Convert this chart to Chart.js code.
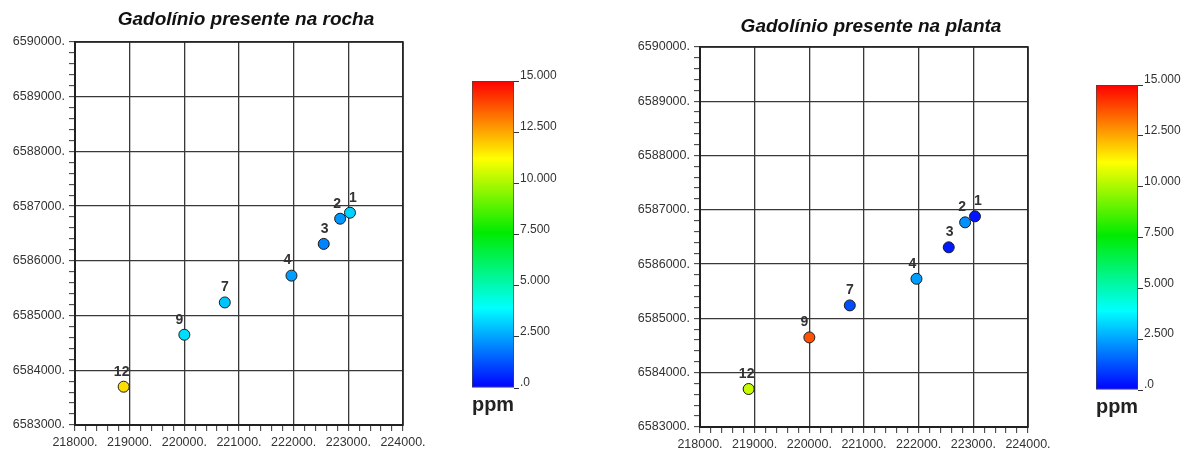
<!DOCTYPE html>
<html lang="pt">
<head>
<meta charset="UTF-8">
<title>Gadolínio - rocha e planta</title>
<script src="https://cdn.jsdelivr.net/npm/chart.js"></script>
<style>
    html, body { margin: 0; padding: 0; background: #fff; overflow: hidden; }
    #painel { position: relative; width: 1189px; height: 452px; }
    canvas { position: absolute; }
</style>
</head>
<body>
<div id="painel">
    <canvas id="mapaRocha" width="440" height="452" style="left:0;top:0"></canvas>
    <canvas id="escalaRocha" width="140" height="370" style="left:440px;top:60px"></canvas>
    <canvas id="mapaPlanta" width="440" height="449" style="left:625px;top:5px"></canvas>
    <canvas id="escalaPlanta" width="140" height="368" style="left:1064px;top:64px"></canvas>
</div>

<script>
// pontos de amostragem (coordenadas UTM) e teores de Gd em ppm
const pontos = ['1', '2', '3', '4', '7', '9', '12'];
const coordX = [223030, 222850, 222550, 221960, 220740, 220000, 218890];
const coordY = [6586880, 6586770, 6586310, 6585730, 6585240, 6584650, 6583700];
const gdRocha = [3.2, 2.3, 2.0, 2.4, 3.0, 3.4, 11.7];
const gdPlanta = [0.3, 2.2, 0.4, 2.4, 1.2, 13.8, 10.4];

// limites dos eixos
const limX = [218000, 224000];
const limY = [6583000, 6590000];
const limPpm = [0, 15];

// ajuste horizontal dos números dos pontos
const ajusteRotulo = [3, -3, 1, -4, 0, -5, -2];

const fonte = "'Liberation Sans', Arial, sans-serif";

// escala de cores (tipo "jet"): valor -> rgb
const paradas = [
    [0, [0, 0, 255]],
    [3.9, [0, 255, 255]],
    [7.6, [0, 235, 0]],
    [11.2, [255, 255, 0]],
    [15, [255, 0, 0]]
];

function corPpm(v) {
    for (let i = 1; i < paradas.length; i++) {
        const [v0, c0] = paradas[i - 1];
        const [v1, c1] = paradas[i];
        if (v <= v1) {
            const t = Math.max(0, (v - v0) / (v1 - v0));
            const c = c0.map((a, k) => Math.round(a + (c1[k] - a) * t));
            return `rgb(${c[0]},${c[1]},${c[2]})`;
        }
    }
    return 'rgb(255,0,0)';
}

// escreve o número de cada ponto acima do marcador
const rotulosPontos = {
    id: 'rotulosPontos',
    afterDatasetsDraw(chart) {
        const ctx = chart.ctx;
        const meta = chart.getDatasetMeta(0);
        ctx.save();
        ctx.font = `bold 14px ${fonte}`;
        ctx.fillStyle = '#333';
        ctx.textAlign = 'center';
        ctx.textBaseline = 'middle';
        meta.data.forEach((el, i) => {
            ctx.fillText(pontos[i], el.x + ajusteRotulo[i], el.y - 15);
        });
        ctx.restore();
    }
};

// moldura em volta da área do gráfico
const moldura = {
    id: 'moldura',
    afterDraw(chart) {
        const a = chart.chartArea;
        const ctx = chart.ctx;
        ctx.save();
        ctx.strokeStyle = '#222';
        ctx.lineWidth = 1.6;
        ctx.strokeRect(a.left, a.top, a.right - a.left, a.bottom - a.top);
        ctx.restore();
    }
};

// título do mapa, um pouco à direita do centro da área
const tituloMapa = {
    id: 'tituloMapa',
    afterDraw(chart, args, opts) {
        const a = chart.chartArea;
        const ctx = chart.ctx;
        ctx.save();
        ctx.font = `italic bold 19px ${fonte}`;
        ctx.fillStyle = '#111';
        ctx.textAlign = 'center';
        ctx.textBaseline = 'middle';
        ctx.fillText(opts.texto, (a.left + a.right) / 2 + 7, opts.y);
        ctx.restore();
    }
};

function eixoMapa(lim, fit) {
    return {
        type: 'linear',
        min: lim[0],
        max: lim[1],
        afterFit: fit,
        border: { color: '#222', width: 2 },
        grid: {
            color: c => (c.tick && c.tick.value % 1000 === 0) ? '#383838' : 'rgba(0,0,0,0)',
            lineWidth: 1.3,
            tickColor: '#333',
            tickLength: 6,
            tickWidth: 1
        },
        ticks: {
            stepSize: 200,
            maxTicksLimit: 60,
            autoSkip: false,
            maxRotation: 0,
            padding: 4,
            color: '#333',
            font: { family: fonte, size: 12.5 },
            callback: v => v % 1000 === 0 ? v + '.' : ''
        }
    };
}

function criaMapa(id, titulo, teores, yTitulo) {
    return new Chart(document.getElementById(id), {
        type: 'scatter',
        data: {
            datasets: [{
                data: coordX.map((x, i) => ({ x: x, y: coordY[i] })),
                backgroundColor: teores.map(corPpm),
                borderColor: '#1a1a1a',
                borderWidth: 1,
                pointRadius: 5.5,
                pointHoverRadius: 5.5
            }]
        },
        options: {
            responsive: false,
            animation: false,
            layout: { padding: { left: 0, right: 37, top: 42, bottom: 0 } },
            plugins: {
                legend: { display: false },
                tooltip: { enabled: false },
                tituloMapa: { texto: titulo, y: yTitulo }
            },
            scales: {
                x: eixoMapa(limX, s => { s.height = 27; }),
                y: eixoMapa(limY, s => { s.width = 75; })
            }
        },
        plugins: [rotulosPontos, moldura, tituloMapa]
    });
}

function criaEscala(id) {
    return new Chart(document.getElementById(id), {
        type: 'bar',
        data: {
            labels: [''],
            datasets: [{
                data: [limPpm],
                barPercentage: 1,
                categoryPercentage: 1,
                borderColor: '#444',
                borderWidth: 1,
                borderSkipped: false,
                backgroundColor: c => {
                    const a = c.chart.chartArea;
                    if (!a) return '#00f';
                    const g = c.chart.ctx.createLinearGradient(0, a.bottom, 0, a.top);
                    paradas.forEach(([v]) => g.addColorStop(v / limPpm[1], corPpm(v)));
                    return g;
                }
            }]
        },
        options: {
            responsive: false,
            animation: false,
            layout: { padding: { left: 32, right: 0, top: 21, bottom: 12 } },
            plugins: { legend: { display: false }, tooltip: { enabled: false } },
            scales: {
                x: {
                    type: 'category',
                    afterFit: s => { s.height = 30; },
                    grid: { display: false },
                    border: { display: false },
                    ticks: { display: false },
                    title: {
                        display: true,
                        text: 'ppm',
                        color: '#222',
                        font: { family: fonte, size: 21, weight: 'bold' },
                        padding: { top: 3, bottom: 0 }
                    }
                },
                y: {
                    position: 'right',
                    min: limPpm[0],
                    max: limPpm[1],
                    afterFit: s => { s.width = 66; },
                    border: { display: false },
                    grid: { drawOnChartArea: false, tickLength: 5, tickColor: '#333' },
                    ticks: {
                        stepSize: 2.5,
                        padding: 1,
                        labelOffset: -5,
                        color: '#333',
                        font: { family: fonte, size: 12 },
                        callback: v => v === 0 ? '.0' : v.toFixed(3)
                    }
                }
            }
        }
    });
}

criaMapa('mapaRocha', 'Gadolínio presente na rocha', gdRocha, 19.5);
criaMapa('mapaPlanta', 'Gadolínio presente na planta', gdPlanta, 22);
criaEscala('escalaRocha');
criaEscala('escalaPlanta');
</script>
</body>
</html>
